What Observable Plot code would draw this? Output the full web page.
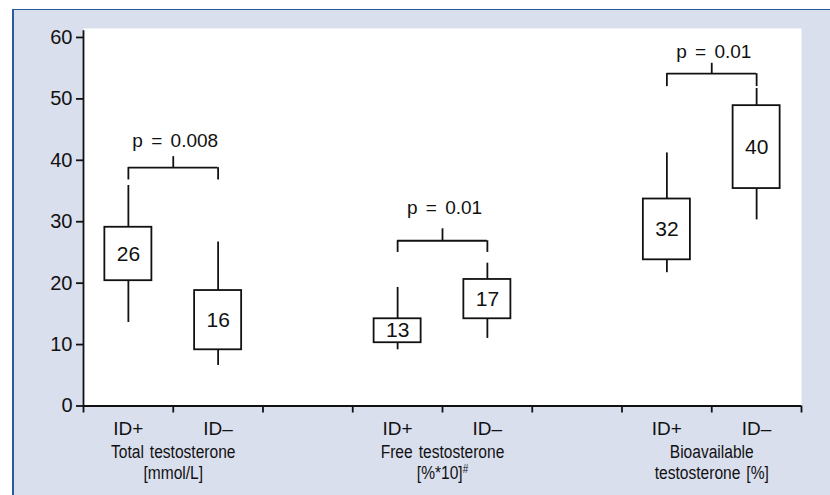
<!DOCTYPE html>
<html><head><meta charset="utf-8">
<script src="https://cdn.jsdelivr.net/npm/d3@7"></script>
<script src="https://cdn.jsdelivr.net/npm/@observablehq/plot@0.6"></script>
<style>
html,body{margin:0;padding:0;background:#fff;}
#wrap{position:relative;width:830px;height:495px;overflow:hidden;}
#bg{position:absolute;left:12px;top:9px;right:0;bottom:0;background:#dadfee;border-top:1.5px solid #2b5c9c;border-left:2px solid #2b5c9c;}
#chart{position:absolute;left:0;top:0;}
</style></head><body>
<div id="wrap"><div id="bg"></div><div id="chart"></div></div>
<script>
// categories along the x axis (empty slots separate the groups)
const categories = ["ID+", "ID–", "", "ID+", "ID–", "", "ID+", "ID–"];
const groups = ["Total testosterone\n[mmol/L]", "Free testosterone\n[%*10]#", "Bioavailable\ntestosterone [%]"];
const groupSlots = [0, 3, 6];           // slot index of the ID+ box in each group
const boxSlots = [0, 1, 3, 4, 6, 7];
const boxLabels = [26, 16, 13, 17, 32, 40];
const boxLow = [20.4, 9.15, 10.3, 14.2, 23.8, 35.4];   // box bottom
const boxHigh = [29.1, 18.8, 14.2, 20.6, 33.7, 48.9];  // box top
const whiskerLow = [13.6, 6.6, 9.15, 11.0, 21.7, 30.3];
const whiskerHigh = [35.9, 26.7, 19.3, 23.25, 41.2, 51.7];
const pLabels = ["p = 0.008", "p = 0.01", "p = 0.01"];
const bracketBar = [38.8, 26.9, 54.1];
const bracketLeg = [36.8, 25.0, 52.0];
const bracketStem = [40.6, 28.85, 55.8];
const pTextY = [43.2, 32.2, 57.6];
const yTicks = [0, 10, 20, 30, 40, 50, 60];

const half = 0.262;
const boxes = boxSlots.map((s, i) => ({
  x: s + 0.5, label: boxLabels[i], lo: boxLow[i], hi: boxHigh[i],
  wlo: whiskerLow[i], whi: whiskerHigh[i]
}));
const brackets = groupSlots.map((s, i) => ({
  left: s + 0.5, right: s + 1.5, mid: s + 1, bar: bracketBar[i],
  leg: bracketLeg[i], stem: bracketStem[i], p: pLabels[i], ty: pTextY[i], group: groups[i]
}));
const cats = categories.map((c, i) => ({x: i + 0.5, c})).filter(d => d.c);

const font = "'Liberation Sans', Arial, sans-serif";
const ink = "#111";
const sw = 1.8;

const chart = Plot.plot({
  width: 830, height: 495,
  marginLeft: 83, marginRight: 29, marginTop: 28, marginBottom: 89.5,
  style: {fontFamily: font, background: "transparent", color: ink, overflow: "visible"},
  x: {type: "linear", domain: [0, 8]},
  y: {domain: [0, 61.46]},
  marks: [
    Plot.frame({fill: "white", stroke: null}),
    Plot.axisY({ticks: yTicks, tickSize: 7, tickPadding: 4, fontSize: 20, stroke: ink, strokeWidth: sw, strokeOpacity: 1, label: null}),
    Plot.axisX({ticks: d3.range(0, 9), tickSize: 7, tickFormat: () => "", stroke: ink, strokeWidth: sw, strokeOpacity: 1, label: null}),
    Plot.ruleX([0], {y1: 0, y2: 61.1, stroke: ink, strokeWidth: sw}),
    Plot.ruleY([0], {x1: 0, x2: 8, stroke: ink, strokeWidth: sw}),
    // whiskers
    Plot.ruleX(boxes, {x: "x", y1: "wlo", y2: "lo", stroke: ink, strokeWidth: sw}),
    Plot.ruleX(boxes, {x: "x", y1: "hi", y2: "whi", stroke: ink, strokeWidth: sw}),
    // boxes
    Plot.rect(boxes, {x1: d => d.x - half, x2: d => d.x + half, y1: "lo", y2: "hi", fill: "white", stroke: ink, strokeWidth: sw}),
    Plot.text(boxes, {x: "x", y: d => (d.lo + d.hi) / 2, text: d => String(d.label), fontSize: 21, fill: ink}),
    // brackets
    Plot.ruleY(brackets, {x1: "left", x2: "right", y: "bar", stroke: ink, strokeWidth: sw}),
    Plot.ruleX(brackets, {x: "left", y1: "leg", y2: "bar", stroke: ink, strokeWidth: sw}),
    Plot.ruleX(brackets, {x: "right", y1: "leg", y2: "bar", stroke: ink, strokeWidth: sw}),
    Plot.ruleX(brackets, {x: "mid", y1: "bar", y2: "stem", stroke: ink, strokeWidth: sw}),
    Plot.text(brackets, {x: "mid", y: "ty", text: "p", fontSize: 19, fill: ink, dx: 2}),
    // category labels
    Plot.text(cats, {x: "x", text: "c", frameAnchor: "bottom", lineAnchor: "middle", dy: 23, fontSize: 19, fill: ink}),
    Plot.text(brackets, {x: "mid", text: "group", frameAnchor: "bottom", lineAnchor: "top", dy: 37, fontSize: 19, lineHeight: 1.1, fill: ink})
  ]
});
document.getElementById("chart").appendChild(chart);

// condensed look for the group labels, superscript "#"
d3.select(chart).selectAll("text").each(function() {
  const t = this.textContent;
  if (t.includes("testosterone")) {
    const tr = this.getAttribute("transform") || "";
    this.setAttribute("transform", tr + " scale(0.82,1)");
    this.setAttribute("word-spacing", "2");
  }
  if (t.startsWith("p =")) this.setAttribute("word-spacing", "3");
});
d3.select(chart).selectAll("tspan").each(function() {
  const t = this.textContent;
  if (t.endsWith("#")) {
    this.textContent = t.slice(0, -1);
    d3.select(this).append("tspan").attr("dy", "-0.5em").attr("font-size", "12px").text("#");
  }
});
</script>
</body></html>
